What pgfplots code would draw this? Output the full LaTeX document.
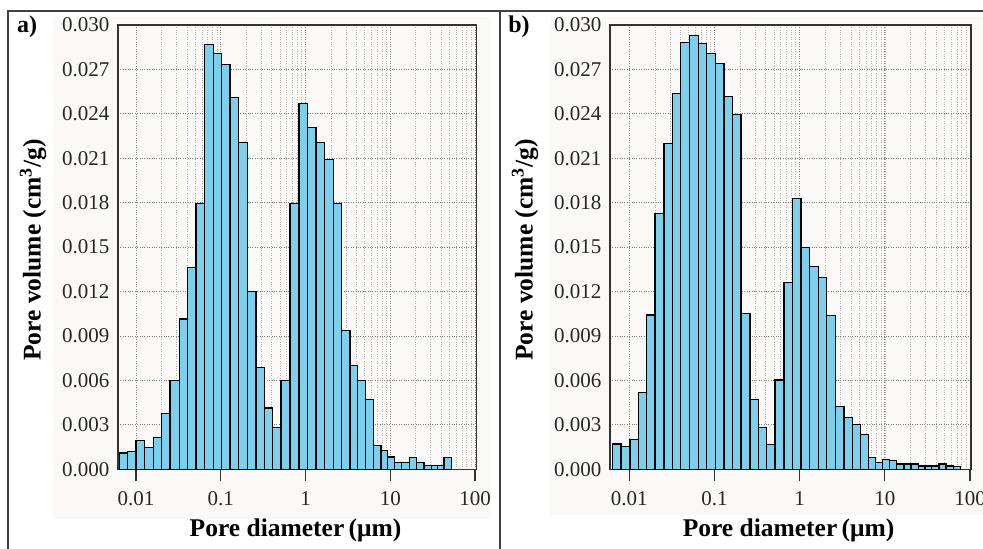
\documentclass[border=0pt]{standalone}
\usepackage{fontspec}
\setmainfont{Liberation Serif}
\usepackage{pgfplots}
\usepackage{pgfplotstable}
\pgfplotsset{compat=1.18}

\definecolor{barblue}{RGB}{125,208,236}
\definecolor{bggray}{RGB}{250,249,247}

% left bin edge (um), pore volume (cm3/g); last row closes the last bin
\pgfplotstableread{
d        v
0.00635  0.00110
0.00798  0.00120
0.0100   0.00196
0.01267  0.00147
0.0160   0.00212
0.0201   0.00376
0.0252   0.00600
0.0322   0.01015
0.0403   0.01362
0.0510   0.01795
0.0647   0.02870
0.0817   0.02810
0.1026   0.02735
0.1286   0.02510
0.1633   0.02205
0.2058   0.01198
0.2606   0.00690
0.3266   0.00414
0.4102   0.00282
0.514    0.00600
0.656    0.01795
0.838    0.02470
1.050    0.02306
1.330    0.02205
1.685    0.02093
2.128    0.01795
2.674    0.00940
3.350    0.00698
4.141    0.00600
5.133    0.00473
6.31     0.00158
7.78     0.00128
9.33     0.00083
11.16    0.00043
13.65    0.00043
16.78    0.00077
20.52    0.00043
25.01    0.00027
30.84    0.00027
35.92    0.00027
43.08    0.00077
53.1     0
}\tblA

\pgfplotstableread{
d        v
0.00639  0.00171
0.00799  0.00153
0.01019  0.00203
0.01275  0.00518
0.0160   0.01042
0.02002  0.01725
0.02554  0.02198
0.0323   0.02540
0.0404   0.02882
0.0506   0.02927
0.0645   0.02877
0.0810   0.02810
0.1022   0.02743
0.1293   0.02515
0.1635   0.02394
0.2047   0.01054
0.2610   0.00473
0.3266   0.00284
0.4100   0.00169
0.5130   0.00603
0.654    0.01260
0.828    0.01830
1.036    0.01497
1.296    0.01369
1.653    0.01295
2.075    0.01038
2.617    0.00423
3.311    0.00348
4.19     0.00300
5.20     0.00232
6.38     0.00078
7.80     0.00045
9.32     0.00068
11.26    0.00059
13.75    0.00036
16.76    0.00036
20.25    0.00036
24.66    0.00022
29.56    0.00022
35.43    0.00022
43.15    0.00036
52.1     0.00022
63.5     0.00020
77.6     0
}\tblB

\pgfplotsset{
  every axis/.append style={
    scale only axis,
    height=444.3pt,
    ymin=0, ymax=0.030,
    ytick={0,0.003,0.006,0.009,0.012,0.015,0.018,0.021,0.024,0.027,0.030},
    scaled y ticks=false,
    yticklabel style={/pgf/number format/fixed, /pgf/number format/fixed zerofill,
      /pgf/number format/precision=3, xshift=7pt},
    xtick={0.01,0.1,1,10,100},
    xticklabels={0.01,0.1,1,10,100},
    tick label style={font=\fontsize{21}{24}\selectfont, text=black!85},
    xticklabel style={yshift=-7pt},
    tick align=outside, major tick length=12pt, minor tick length=0pt,
    xtick pos=bottom, ytick pos=left,
    ytick style={draw=none},
    xtick style={line width=1.2pt, black!80},
    axis line style={line width=1.3pt, black!80},
    xmajorgrids, xminorgrids, ymajorgrids,
    major grid style={dotted, black!50, line width=0.8pt},
    minor grid style={dotted, black!30, line width=0.7pt},
  },
}

\begin{document}
\begin{tikzpicture}
\useasboundingbox (0pt,0pt) rectangle (983pt,549pt);
\fill[bggray] (53pt,30.4pt) rectangle (491pt,532pt);
\fill[bggray] (550pt,34pt) rectangle (983pt,532pt);
\draw[line width=1.4pt, black!75] (983pt,538pt) -- (8pt,538pt) -- (8pt,0pt);
\draw[line width=1.4pt, black!75] (500pt,538pt) -- (500pt,0pt);

\begin{semilogxaxis}[anchor=south west, at={(118pt,79.7pt)}, width=358.7pt, xmin=0.00613, xmax=104.7,
  /pgf/number format/assume math mode=true]
\addplot[ybar interval, fill=barblue, draw=black, line width=1.1pt] table[x=d, y=v] {\tblA};
\end{semilogxaxis}

\begin{semilogxaxis}[anchor=south west, at={(610pt,79.7pt)}, width=361pt, xmin=0.00594, xmax=102.5,
  /pgf/number format/assume math mode=true]
\addplot[ybar interval, fill=barblue, draw=black, line width=1.1pt] table[x=d, y=v] {\tblB};
\end{semilogxaxis}

\node[font=\fontsize{24}{28}\selectfont\bfseries] at (27pt,522pt) {a)};
\node[font=\fontsize{24}{28}\selectfont\bfseries] at (519pt,522pt) {b)};
\node[font=\fontsize{25.5}{30}\selectfont\bfseries, rotate=90] at (33pt,299pt) {Pore volume (cm\textsuperscript{3}/g)};
\node[font=\fontsize{25.5}{30}\selectfont\bfseries, rotate=90] at (525pt,299pt) {Pore volume (cm\textsuperscript{3}/g)};
\node[font=\fontsize{25.5}{30}\selectfont\bfseries] at (295.5pt,19pt) {Pore diameter\,(μm)};
\node[font=\fontsize{25.5}{30}\selectfont\bfseries] at (788.5pt,19pt) {Pore diameter\,(μm)};
\end{tikzpicture}
\end{document}
